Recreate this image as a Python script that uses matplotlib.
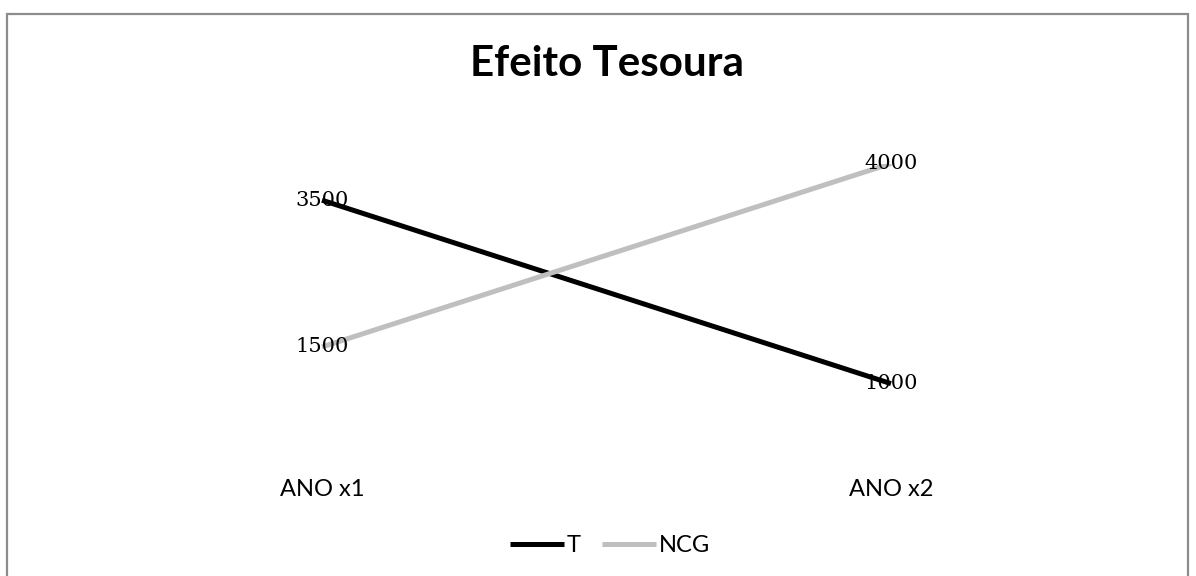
import matplotlib
matplotlib.use("Agg")
import matplotlib.pyplot as plt
from matplotlib.patches import Rectangle

categories = ["ANO x1", "ANO x2"]
t_values = [3500, 1000]
ncg_values = [1500, 4000]
series_names = ["T", "NCG"]
title = "Efeito Tesoura"

W, H = 1196, 576
fig = plt.figure(figsize=(W / 100, H / 100), dpi=100)
fig.patch.set_facecolor("white")

# axes placement (pixel-based)
left_px, right_px = 37.5, 37.5 + 1138
top_px, bottom_px = 163.5, 457
ax = fig.add_axes([left_px / W, (H - bottom_px) / H,
                   (right_px - left_px) / W, (bottom_px - top_px) / H])
ax.set_xlim(-0.5, 1.5)
ax.set_ylim(0, 4000)
ax.axis("off")

x = list(range(len(categories)))
ax.plot(x, t_values, color="black", lw=3.6, solid_capstyle="butt", label=series_names[0])
ax.plot(x, ncg_values, color="#BFBFBF", lw=3.6, solid_capstyle="butt", label=series_names[1])

for xi, v in zip(x, t_values):
    ax.text(xi, v, str(v), ha="center", va="center", fontsize=15,
            family="DejaVu Serif", color="black", clip_on=False)
for xi, v in zip(x, ncg_values):
    ax.text(xi, v, str(v), ha="center", va="center", fontsize=15,
            family="DejaVu Serif", color="black", clip_on=False)

# category labels (y in axes fraction matching pixel row 490)
cat_y = (bottom_px - 490) / (bottom_px - top_px)
for xi, c in zip(x, categories):
    ax.text(xi, cat_y, c, ha="center", va="center", fontsize=17, family="Lato",
            color="black", transform=ax.get_xaxis_transform(), clip_on=False)

fig.text(607 / W, 1 - 64 / H, title, ha="center", va="center",
         fontsize=30.3, fontweight="bold", family="Lato")

leg = fig.legend(loc="center", bbox_to_anchor=(610 / W, 1 - 546 / H),
                 ncol=2, frameon=False, prop={"family": "Lato", "size": 17},
                 handlelength=2.3, handletextpad=0.1, columnspacing=0.9)

fig.patches.append(Rectangle((7 / W, -0.05), (1188 - 7) / W, (H - 14) / H + 0.05,
                             transform=fig.transFigure, fill=False,
                             edgecolor="#8C8C8C", lw=1.6, zorder=10))

fig.savefig("out.png", dpi=100, facecolor="white")
